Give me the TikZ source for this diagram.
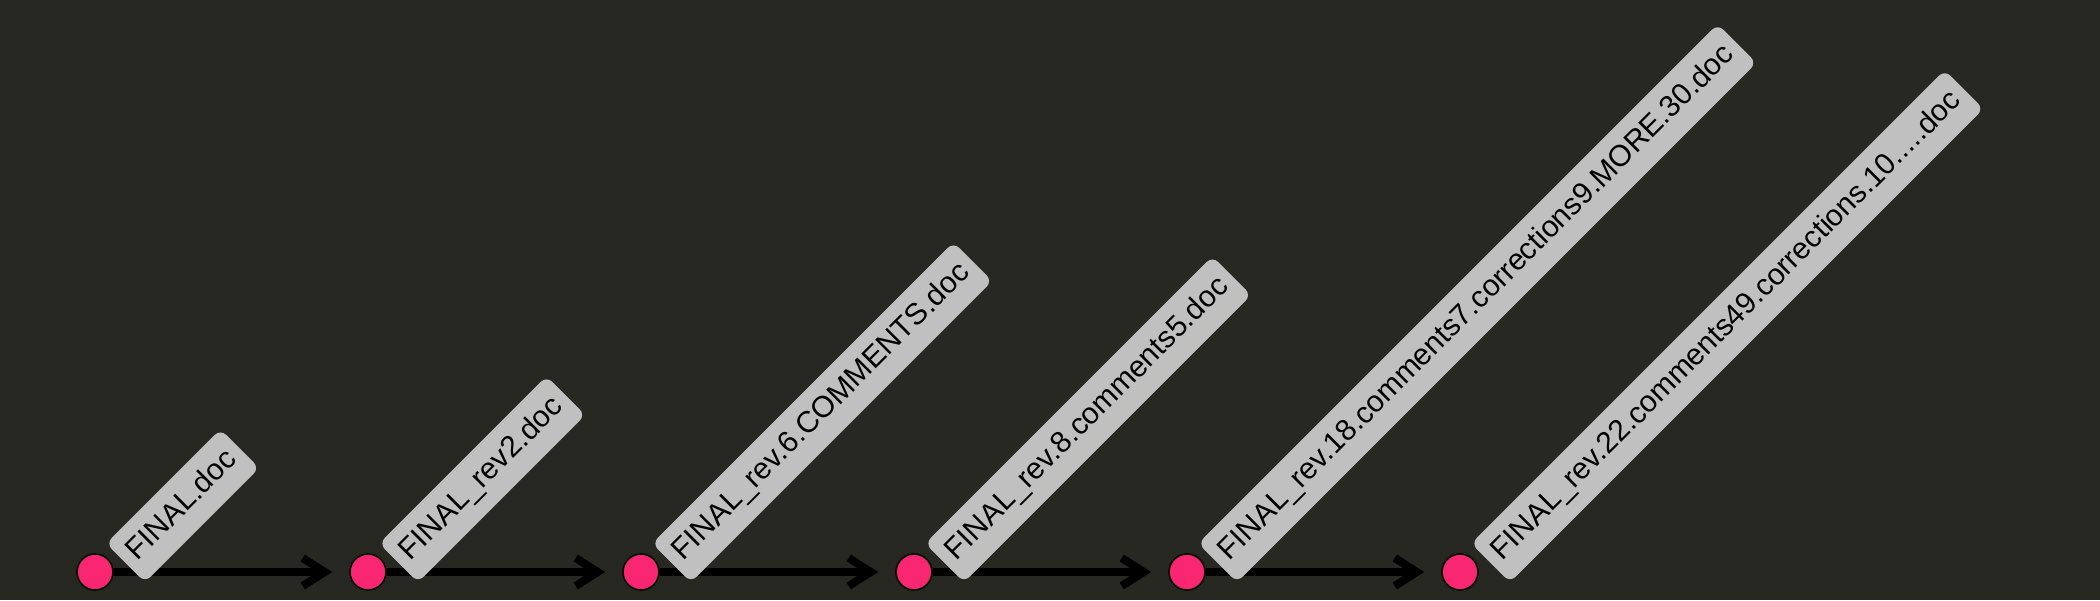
\documentclass[tikz,border=0pt]{standalone}
\usepackage{fontspec}
\setsansfont{Liberation Sans}
\usetikzlibrary{arrows.meta,positioning,backgrounds}
\definecolor{monobg}{HTML}{272822}
\definecolor{monopink}{HTML}{F92672}
\definecolor{tagfill}{HTML}{C0C0C0}

\begin{document}
\begin{tikzpicture}[
  x=0.5pt, y=0.5pt,
  font=\sffamily\fontsize{15}{18}\selectfont,
  rev/.style = {circle, draw=black, line width=0.8pt, fill=monopink,
                minimum size=18pt, inner sep=0pt},
  tag/.style = {fill=tagfill, rounded corners=4pt, rotate=45, anchor=south west,
                inner xsep=5pt, inner ysep=6.5pt, text height=11pt, text depth=3.5pt},
  ln/.style  = {-{Straight Barb[length=11pt, width=14pt]}, draw=black,
                line width=4pt, shorten >=8.5pt},
]
\useasboundingbox (0,0) rectangle (2100,600);

% --- the revisions --------------------------------------------------------------------------------
\node[rev] (v1) at (95,28) {};
\node[rev, right=117.7pt of v1] (v2) {};
\node[rev, right=117.7pt of v2] (v3) {};
\node[rev, right=117.7pt of v3] (v4) {};
\node[rev, right=117.7pt of v4] (v5) {};
\node[rev, right=117.7pt of v5] (v6) {};

% --- file names, tilted ---------------------------------------------------------------------------
\node[tag] (t1) at ([shift={(25pt,-5.5pt)}]v1.center) {FINAL.doc};
\node[tag] (t2) at ([shift={(25pt,-5.5pt)}]v2.center) {FINAL\_rev2.doc};
\node[tag] (t3) at ([shift={(25pt,-5.5pt)}]v3.center) {FINAL\_rev.6.COMMENTS.doc};
\node[tag] (t4) at ([shift={(25pt,-5.5pt)}]v4.center) {FINAL\_rev.8.comments5.doc};
\node[tag] (t5) at ([shift={(25pt,-5.5pt)}]v5.center)
  {FINAL\_rev.18.comments7.corrections9.MORE.30.doc};
\node[tag] (t6) at ([shift={(25pt,-5.5pt)}]v6.center)
  {FINAL\_rev.22.comments49.corrections.10.....doc};

% --- history, under everything --------------------------------------------------------------------
\begin{scope}[on background layer]
  \fill[monobg] (0,0) rectangle (2100,600);
  \draw[ln] (v1) -- (v2);
  \draw[ln] (v2) -- (v3);
  \draw[ln] (v3) -- (v4);
  \draw[ln] (v4) -- (v5);
  \draw[ln] (v5) -- (v6);
\end{scope}

\end{tikzpicture}
\end{document}
